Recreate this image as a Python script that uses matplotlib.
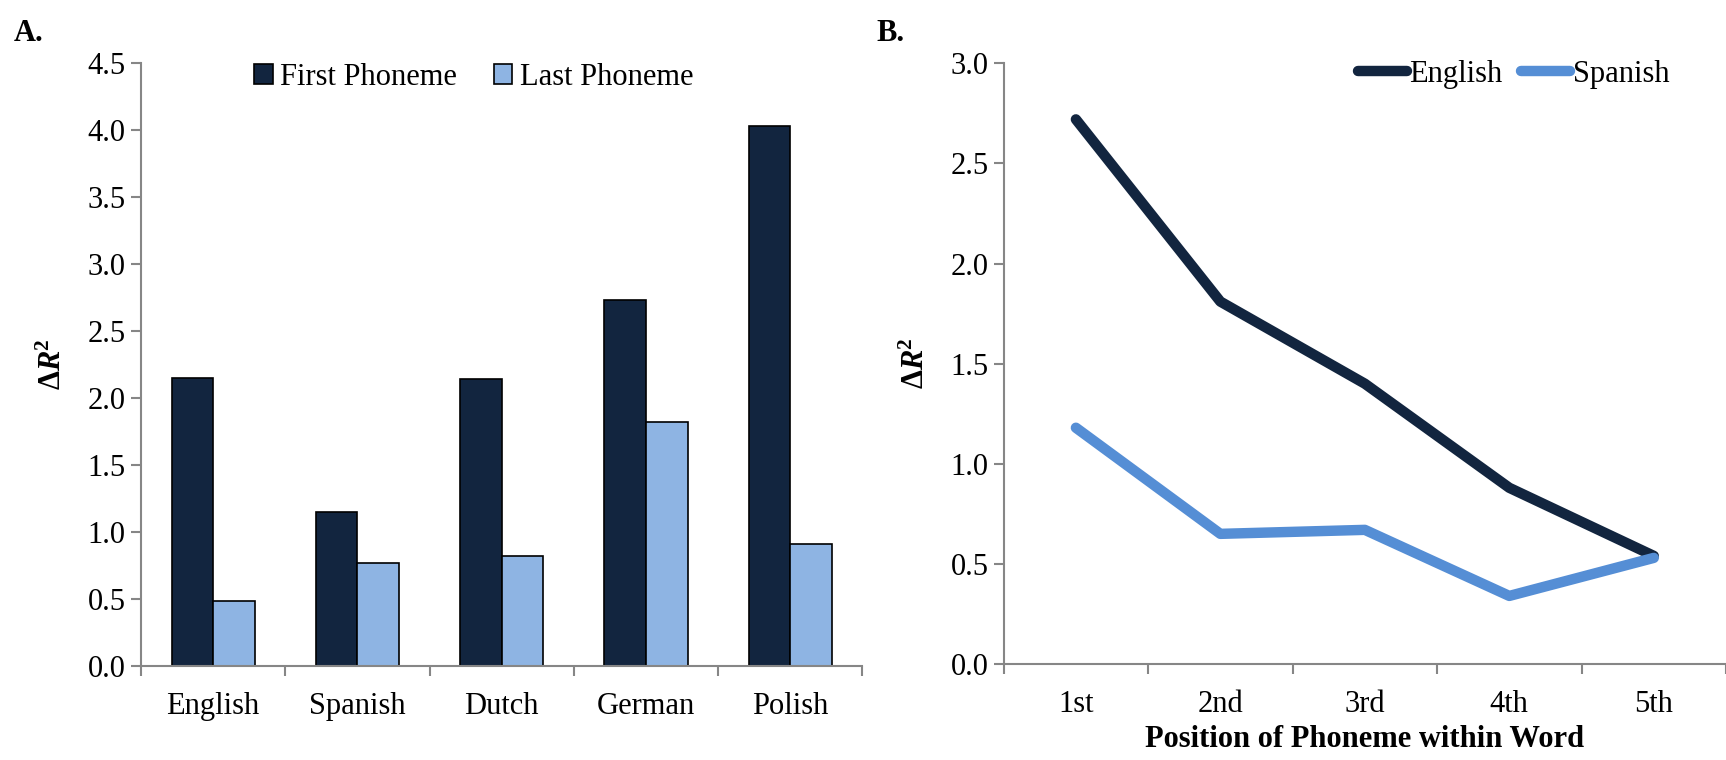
import matplotlib
matplotlib.use('Agg')
import matplotlib.pyplot as plt
import numpy as np

# data
languages = ['English', 'Spanish', 'Dutch', 'German', 'Polish']
first_phoneme = [2.15, 1.15, 2.14, 2.73, 4.03]
last_phoneme = [0.48, 0.77, 0.82, 1.82, 0.91]

positions = ['1st', '2nd', '3rd', '4th', '5th']
english_pos = [2.72, 1.81, 1.40, 0.88, 0.54]
spanish_pos = [1.18, 0.65, 0.67, 0.34, 0.53]

# colours
dark = '#12253f'
light = '#8eb4e3'
mid = '#558ed5'
axis_grey = '#868686'

plt.rcParams['font.family'] = ['Liberation Serif', 'DejaVu Serif']
plt.rcParams['mathtext.fontset'] = 'custom'
plt.rcParams['mathtext.rm'] = 'Liberation Serif'
plt.rcParams['mathtext.it'] = 'Liberation Serif:italic'
plt.rcParams['mathtext.bf'] = 'Liberation Serif:bold'
plt.rcParams['mathtext.bfit'] = 'Liberation Serif:bold:italic'

fs = 22
ylab = r'$\mathbf{\Delta}\mathbfit{R}^{\mathbf{2}}$'

fig = plt.figure(figsize=(17.26, 7.6), dpi=100)


def style_axes(ax, n):
    '''grey Excel-like axes with ticks between categories'''
    for s in ['top', 'right']:
        ax.spines[s].set_visible(False)
    for s in ['left', 'bottom']:
        ax.spines[s].set_color(axis_grey)
        ax.spines[s].set_linewidth(1.5)
    ax.set_xlim(-0.5, n - 0.5)
    ax.set_xticks(np.arange(n))
    ax.set_xticks(np.arange(n + 1) - 0.5, minor=True)
    ax.tick_params(axis='x', which='major', length=0, pad=19, labelsize=fs)
    ax.tick_params(axis='x', which='minor', length=7, width=1.5, color=axis_grey)
    ax.tick_params(axis='y', length=7, width=1.5, color=axis_grey, labelsize=fs, pad=4)


# ---- panel A: bar chart ----
axA = fig.add_axes([0.0817, 0.1241, 0.418, 0.7926])
x = np.arange(len(languages))
w = 0.288
axA.bar(x - w / 2, first_phoneme, w, color=dark, edgecolor='black', linewidth=1.2,
        label='First Phoneme')
axA.bar(x + w / 2, last_phoneme, w, color=light, edgecolor='black', linewidth=1.2,
        label='Last Phoneme')
style_axes(axA, len(languages))
axA.set_xticklabels(languages)
axA.set_ylim(0, 4.5)
axA.set_yticks(np.arange(0, 4.51, 0.5))
axA.set_yticklabels(['%.1f' % v for v in np.arange(0, 4.51, 0.5)])
axA.set_ylabel(ylab, fontsize=fs, labelpad=14)
axA.legend(loc='center left', bbox_to_anchor=(0.157, 0.977), ncol=2, frameon=False,
           fontsize=fs, handlelength=0.6, handleheight=0.6, handletextpad=0.25,
           columnspacing=1.2, borderpad=0, borderaxespad=0)
fig.text(0.008, 0.975, 'A.', fontsize=fs, fontweight='bold', va='top')

# ---- panel B: line chart ----
axB = fig.add_axes([0.5815, 0.1263, 0.4185, 0.7904])
xp = np.arange(len(positions))
axB.plot(xp, english_pos, color=dark, linewidth=7.5, solid_capstyle='round',
         solid_joinstyle='round', label='English')
axB.plot(xp, spanish_pos, color=mid, linewidth=7.5, solid_capstyle='round',
         solid_joinstyle='round', label='Spanish')
style_axes(axB, len(positions))
axB.set_xticklabels(positions)
axB.set_ylim(0, 3.0)
axB.set_yticks(np.arange(0, 3.01, 0.5))
axB.set_yticklabels(['%.1f' % v for v in np.arange(0, 3.01, 0.5)])
axB.set_ylabel(ylab, fontsize=fs, labelpad=14)
axB.set_xlabel('Position of Phoneme within Word', fontsize=fs, fontweight='bold',
               labelpad=4)
axB.legend(loc='center left', bbox_to_anchor=(0.49, 0.982), ncol=2, frameon=False,
           fontsize=fs, handlelength=1.6, handletextpad=0.1, columnspacing=0.6,
           borderpad=0, borderaxespad=0)
fig.text(0.508, 0.975, 'B.', fontsize=fs, fontweight='bold', va='top')

fig.savefig('out.png', dpi=100)
